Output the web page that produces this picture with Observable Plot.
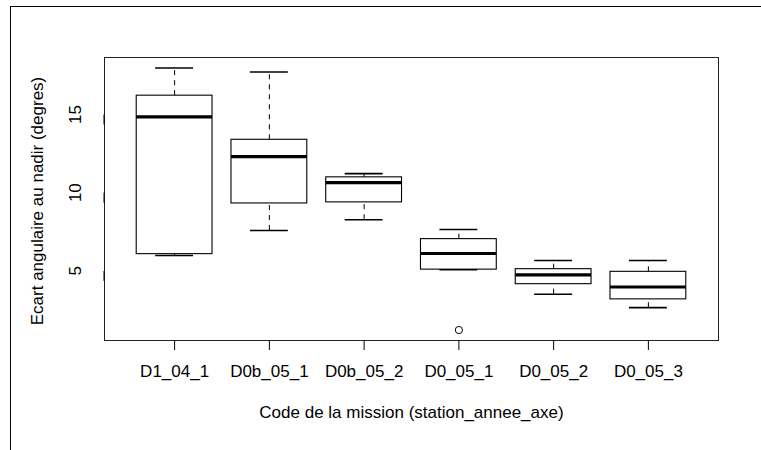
<!DOCTYPE html>
<html>
<head>
<meta charset="utf-8">
<script src="https://cdn.jsdelivr.net/npm/d3@7"></script>
<script src="https://cdn.jsdelivr.net/npm/@observablehq/plot@0.6"></script>
<style>
  html, body { margin: 0; padding: 0; background: #fff; }
  #wrap { position: relative; width: 761px; height: 450px; overflow: hidden; }
  #edge { position: absolute; left: 10px; top: 6px; width: 800px; height: 500px;
          border-top: 1.5px solid #000; border-left: 1.5px solid #000; pointer-events: none; }
  #chart { position: absolute; left: 0; top: 0; }
</style>
</head>
<body>
<div id="wrap"><div id="chart"></div><div id="edge"></div></div>
<script>
const categories = ["D1_04_1", "D0b_05_1", "D0b_05_2", "D0_05_1", "D0_05_2", "D0_05_3"];
const lowerWhisker = [5.98, 7.58, 8.27, 5.08, 3.51, 2.65];
const q1Values     = [6.07, 9.31, 9.38, 5.08, 4.15, 3.18];
const medians      = [14.85, 12.31, 10.64, 6.11, 4.74, 3.97];
const q3Values     = [16.20, 13.38, 10.98, 7.03, 5.11, 4.94];
const upperWhisker = [17.97, 17.71, 11.22, 7.65, 5.66, 5.66];
const outlierCategories = ["D0_05_1"];
const outlierValues = [1.22];
const yTicks = [5, 10, 15];
const xTitle = "Code de la mission (station_annee_axe)";
const yTitle = "Ecart angulaire au nadir (degres)";

const boxes = categories.map((c, i) => ({
  cat: c, pos: i + 1,
  lo: lowerWhisker[i], q1: q1Values[i], med: medians[i], q3: q3Values[i], hi: upperWhisker[i]
}));
const outliers = outlierCategories.map((c, i) => ({ pos: categories.indexOf(c) + 1, value: outlierValues[i] }));

const boxHalf = 0.4, capHalf = 0.2;

const chart = Plot.plot({
  width: 761,
  height: 450,
  marginLeft: 104,
  marginRight: 43,
  marginTop: 57,
  marginBottom: 110,
  style: { fontFamily: "'Liberation Sans', Arial, Helvetica, sans-serif", fontSize: "17px", color: "#000", background: "#fff" },
  x: { type: "linear", domain: [0.26, 6.74], axis: null },
  y: { domain: [0.55, 18.64], axis: null },
  marks: [
    Plot.frame({ stroke: "#222", strokeWidth: 1 }),
    // whiskers (dashed)
    Plot.ruleX(boxes, { x: "pos", y1: "q3", y2: "hi", stroke: "#000", strokeWidth: 1, strokeDasharray: "5,5" }),
    Plot.ruleX(boxes, { x: "pos", y1: "lo", y2: "q1", stroke: "#000", strokeWidth: 1, strokeDasharray: "5,5" }),
    // caps
    Plot.ruleY(boxes, { y: "hi", x1: d => d.pos - capHalf, x2: d => d.pos + capHalf, stroke: "#000", strokeWidth: 1.6 }),
    Plot.ruleY(boxes, { y: "lo", x1: d => d.pos - capHalf, x2: d => d.pos + capHalf, stroke: "#000", strokeWidth: 1.6 }),
    // boxes
    Plot.rect(boxes, { x1: d => d.pos - boxHalf, x2: d => d.pos + boxHalf, y1: "q1", y2: "q3", fill: "#fff", stroke: "#000", strokeWidth: 1.1 }),
    // medians
    Plot.ruleY(boxes, { y: "med", x1: d => d.pos - boxHalf, x2: d => d.pos + boxHalf, stroke: "#000", strokeWidth: 3.2 }),
    // outliers
    Plot.dot(outliers, { x: "pos", y: "value", r: 3.6, stroke: "#000", fill: "none", strokeWidth: 1 }),
    // axes
    Plot.axisX({ ticks: boxes.map(d => d.pos), tickFormat: d => categories[d - 1], tickSize: 10, tickPadding: 14, lineAnchor: "top", label: null }),
    Plot.axisY({ ticks: yTicks, tickSize: 10, tickPadding: 19, rotate: -90, textAnchor: "middle", lineAnchor: "middle", label: null }),
    // titles
    Plot.text([xTitle], { frameAnchor: "bottom", lineAnchor: "top", textAnchor: "middle", dy: 65, fill: "#000" }),
    Plot.text([yTitle], { frameAnchor: "left", rotate: -90, lineAnchor: "middle", textAnchor: "middle", dx: -67, dy: 2, fill: "#000" })
  ]
});
document.getElementById("chart").appendChild(chart);
</script>
</body>
</html>
